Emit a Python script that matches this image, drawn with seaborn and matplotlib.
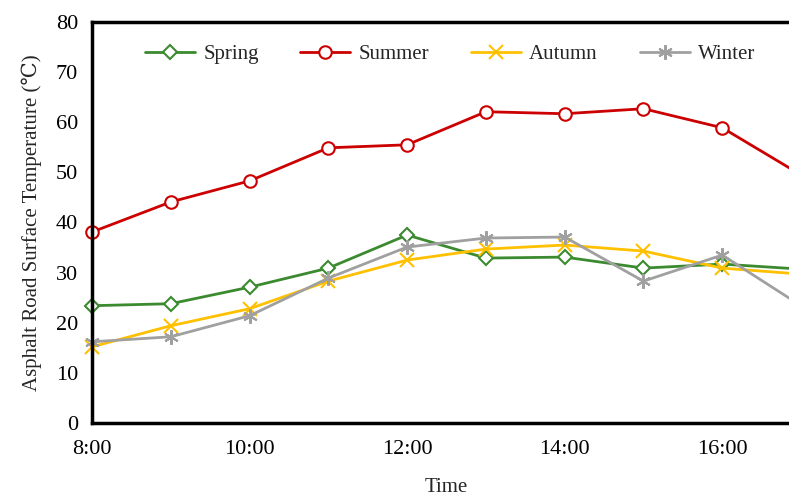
import matplotlib
matplotlib.use("Agg")
import matplotlib.pyplot as plt
import seaborn as sns
import pandas as pd

hours = [8, 9, 10, 11, 12, 13, 14, 15, 16, 17]
tick_hours = [8, 10, 12, 14, 16]
tick_labels = ["8:00", "10:00", "12:00", "14:00", "16:00"]
spring = [23.4, 23.8, 27.1, 30.9, 37.5, 32.9, 33.1, 30.9, 31.7, 30.7]
summer = [38.1, 44.1, 48.3, 54.9, 55.5, 62.1, 61.7, 62.7, 58.9, 49.5]
autumn = [15.2, 19.4, 22.8, 28.3, 32.5, 34.7, 35.5, 34.3, 30.9, 29.7]
winter = [16.2, 17.2, 21.4, 28.9, 35.1, 36.9, 37.1, 28.3, 33.5, 23.4]

series = {"Spring": spring, "Summer": summer, "Autumn": autumn, "Winter": winter}
colors = {"Spring": "#3c8a30", "Summer": "#cc0000", "Autumn": "#ffc000", "Winter": "#a0a0a0"}
markers = {"Spring": "D", "Summer": "o", "Autumn": "x", "Winter": (6, 2, 0)}
msizes = {"Spring": 7, "Summer": 9, "Autumn": 9.5, "Winter": 10.5}

sns.set_theme(style="white")
plt.rcParams["font.family"] = ["Liberation Serif", "DejaVu Serif"]

fig = plt.figure(figsize=(7.89, 5.0), dpi=100)
ax = fig.add_axes([92 / 789, 1 - 423 / 500, (801 - 92) / 789, (423 - 22) / 500])

for name, vals in series.items():
    df = pd.DataFrame({"hour": hours, "temp": vals})
    face = "white" if name in ("Spring", "Summer") else colors[name]
    sns.lineplot(data=df, x="hour", y="temp", ax=ax, color=colors[name], marker=markers[name],
                 markersize=msizes[name], markerfacecolor=face, markeredgecolor=colors[name],
                 markeredgewidth=1.5, linewidth=2, label=name, clip_on=False)

ax.set_xlim(8, 17)
ax.set_ylim(0, 80)
ax.set_xticks(hours)
ax.set_xticklabels(["" if h not in tick_hours else tick_labels[tick_hours.index(h)] for h in hours])
ax.set_yticks(range(0, 81, 10))
ax.tick_params(axis="both", direction="in", length=6, width=1.5, labelsize=16, colors="black")
ax.tick_params(axis="x", pad=12)
ax.tick_params(axis="y", pad=10)
for s in ax.spines.values():
    s.set_linewidth(2.5)
    s.set_color("black")

ax.set_xlabel("Time", fontsize=15, labelpad=14)
ax.set_ylabel("Asphalt Road Surface Temperature (℃)", fontsize=15, labelpad=10)

leg = ax.legend(loc="center", bbox_to_anchor=(0.505, 0.92), ncol=4, frameon=False,
                fontsize=15, handlelength=2.4, columnspacing=2.0, handletextpad=0.4)

fig.savefig("out.png", dpi=100)
